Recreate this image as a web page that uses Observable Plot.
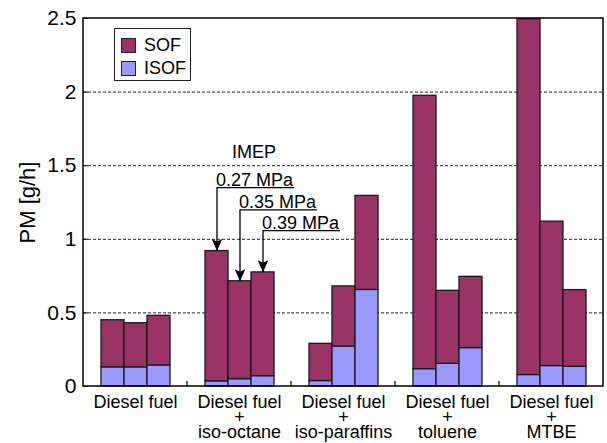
<!DOCTYPE html>
<html>
<head>
<meta charset="utf-8">
<script src="https://cdn.jsdelivr.net/npm/d3@7"></script>
<script src="https://cdn.jsdelivr.net/npm/@observablehq/plot@0.6"></script>
<style>
  body { margin: 0; background: #fff; font-family: "Liberation Sans", Arial, sans-serif; }
  #chart { position: relative; width: 607px; height: 443px; }
  .legend {
    position: absolute; left: 114px; top: 28px; width: 75px; height: 51px;
    border: 1.5px solid #222; background: #fff; font-size: 18px; color: #000;
  }
  .legend .item { position: absolute; left: 6px; display: flex; align-items: center; height: 16px; }
  .legend .sw { width: 13px; height: 13px; border: 1px solid #222; margin-right: 8px; }
</style>
</head>
<body>
<div id="chart"></div>
<script>
// Fuel blends (facets) and engine loads (bars within each blend)
const groups = [
  "Diesel fuel",
  "Diesel fuel\n+\niso-octane",
  "Diesel fuel\n+\niso-paraffins",
  "Diesel fuel\n+\ntoluene",
  "Diesel fuel\n+\nMTBE"
];
const loads = ["0.27 MPa", "0.35 MPa", "0.39 MPa"];
const components = ["SOF", "ISOF"];
const colors = ["#993366", "#9999ff"];

// Total particulate matter and its insoluble fraction, g/h (blend-major, load-minor)
const totalPM = [0.45, 0.43, 0.48, 0.92, 0.715, 0.775, 0.29, 0.68, 1.295, 1.975, 0.65, 0.745, 2.495, 1.12, 0.655];
const isofPM  = [0.13, 0.13, 0.143, 0.035, 0.05, 0.07, 0.037, 0.272, 0.656, 0.118, 0.154, 0.261, 0.078, 0.139, 0.134];

const yTicks = [0, 0.5, 1, 1.5, 2, 2.5];
const gridTicks = [0.5, 1, 1.5, 2];

// Long table: one row per bar segment
const rows = [];
groups.forEach((g, gi) => loads.forEach((l, li) => {
  const k = gi * 3 + li;
  rows.push({group: g, load: l, component: "ISOF", value: isofPM[k]});
  rows.push({group: g, load: l, component: "SOF", value: totalPM[k] - isofPM[k]});
}));

// IMEP call-outs on the iso-octane blend; leader lines start at the underlined labels
const leaderTop = [1.348, 1.196, 1.055];
const callouts = loads.map((l, i) => ({group: groups[1], load: l, total: totalPM[3 + i], top: leaderTop[i]}));

// Filled arrowhead with its tip at the symbol origin, pointing down
const arrowHead = {
  draw(ctx, size) {
    const r = Math.sqrt(size / Math.PI);
    ctx.moveTo(0, 0);
    ctx.lineTo(-0.95 * r, -2.2 * r);
    ctx.lineTo(0, -1.75 * r);
    ctx.lineTo(0.95 * r, -2.2 * r);
    ctx.closePath();
  }
};

const chart = Plot.plot({
  width: 607,
  height: 443,
  marginLeft: 82,
  marginRight: 4,
  marginTop: 18,
  marginBottom: 57,
  style: {fontFamily: "'Liberation Sans', Arial, sans-serif", fontSize: "18px", color: "#000", background: "#fff"},
  fx: {domain: groups, padding: 0},
  x: {domain: loads, paddingInner: 0, paddingOuter: 0.73, axis: null},
  y: {domain: [0, 2.5]},
  color: {domain: components, range: colors},
  marks: [
    Plot.gridY(gridTicks, {stroke: "#222", strokeOpacity: 1, strokeWidth: 1, strokeDasharray: "3,2"}),
    Plot.barY(rows, {
      fx: "group", x: "load", y: "value", fill: "component",
      order: ["ISOF", "SOF"], stroke: "#1a1a1a", strokeWidth: 1.3
    }),
    Plot.ruleX(callouts, {fx: "group", x: "load", y1: "top", y2: "total", stroke: "#000", strokeWidth: 1.3}),
    Plot.dot(callouts, {fx: "group", x: "load", y: "total", symbol: arrowHead, r: 5.5, fill: "#000", stroke: "none"}),
    Plot.text(callouts, {
      fx: "group", x: "load", y: "top", text: "load",
      textAnchor: "start", lineAnchor: "bottom", dx: -1, dy: -2.5, fontSize: 18
    }),
    Plot.text([{group: groups[1], load: loads[1], label: "IMEP", y: 1.59}], {
      fx: "group", x: "load", y: "y", text: "label", dx: 14, fontSize: 18
    }),
    Plot.axisY({
      ticks: yTicks, tickFormat: (d) => String(d), tickSize: -5, tickPadding: 12,
      fontSize: 21, label: "PM [g/h]", labelArrow: "none", labelAnchor: "center", labelOffset: 64
    }),
    Plot.axisFx({anchor: "bottom", tickSize: 0, tickPadding: 10, label: null, lineHeight: 0.86, fontSize: 18})
  ]
});

document.getElementById("chart").appendChild(chart);

const fxd = chart.scale("fx");
const yd = chart.scale("y");
const fxApply = fxd.apply ? fxd.apply : d3.scaleBand().domain(fxd.domain).range(fxd.range).padding(0);
const yApply = yd.apply ? yd.apply : d3.scaleLinear().domain(yd.domain).range(yd.range);
const bw = fxd.bandwidth ?? (fxd.range[1] - fxd.range[0]) / fxd.domain.length;
const svg = d3.select(chart);
const box = chart.getBoundingClientRect();

// Larger axis title
svg.selectAll('g[aria-label="y-axis label"] text').attr("font-size", 22);

// Underline each load label, running from its leader line to the end of the text
svg.selectAll("text")
  .filter(function () { return loads.includes(this.textContent); })
  .each(function () {
    const i = loads.indexOf(this.textContent);
    const r = this.getBoundingClientRect();
    const yy = yApply(leaderTop[i]);
    svg.append("line")
      .attr("x1", r.left - box.left + 0.5).attr("x2", r.right - box.left)
      .attr("y1", yy).attr("y2", yy)
      .attr("stroke", "#000").attr("stroke-width", 1.3);
  });

// Outer frame and the small inward ticks separating the blends
const left = fxApply(groups[0]);
const right = fxApply(groups[groups.length - 1]) + bw;
const y0 = yApply(0), y1 = yApply(2.5);
const deco = svg.append("g").attr("fill", "none").attr("stroke", "#000");
groups.slice(1).forEach((g) => {
  const xb = fxApply(g);
  deco.append("line").attr("x1", xb).attr("x2", xb).attr("y1", y0).attr("y2", y0 - 5).attr("stroke-width", 1.2);
});
deco.append("rect")
  .attr("x", left).attr("y", y1).attr("width", right - left).attr("height", y0 - y1)
  .attr("stroke-width", 1.5);

// Legend box in the upper-left corner of the plot area
const colorScale = chart.scale("color");
const colorOf = colorScale.apply ? colorScale.apply : d3.scaleOrdinal(colorScale.domain, colorScale.range);
const legend = d3.select("#chart").append("div").attr("class", "legend");
components.forEach((c, i) => {
  const item = legend.append("div").attr("class", "item").style("top", `${8 + i * 23}px`);
  item.append("span").attr("class", "sw").style("background", colorOf(c));
  item.append("span").text(c);
});
</script>
</body>
</html>
